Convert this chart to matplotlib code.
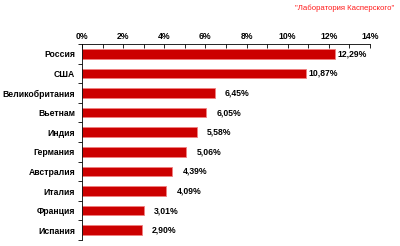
import matplotlib
matplotlib.use("Agg")
import matplotlib.pyplot as plt
from matplotlib import font_manager
from matplotlib.ticker import MultipleLocator, FuncFormatter

countries = ["Россия", "США", "Великобритания", "Вьетнам", "Индия",
             "Германия", "Австралия", "Италия", "Франция", "Испания"]
shares = [12.29, 10.87, 6.45, 6.05, 5.58, 5.06, 4.39, 4.09, 3.01, 2.90]

bold = font_manager.FontProperties(family=["Liberation Sans", "DejaVu Sans"],
                                   weight="bold", size=6.2)
reg = font_manager.FontProperties(family=["Liberation Sans", "DejaVu Sans"], size=5.6)

fig = plt.figure(figsize=(4, 2.46), dpi=100)
ax = fig.add_axes([0.205, 0.024, 0.72, 0.797])

pos = list(range(len(countries)))
ax.barh(pos, shares, height=0.49, color="#cc0000", edgecolor="#f08080", linewidth=0.6)

ax.set_ylim(len(countries) - 0.5, -0.5)
ax.set_xlim(0, 14)

# Labels:
for i, v in enumerate(shares):
    off = 0.15 if v > 10 else 0.5
    ax.text(v + off, i, f"{v:.2f}%".replace(".", ","), va="center", ha="left",
            fontproperties=bold)

# Axes:
ax.xaxis.tick_top()
ax.xaxis.set_major_locator(MultipleLocator(2))
ax.xaxis.set_minor_locator(MultipleLocator(1))
ax.xaxis.set_major_formatter(FuncFormatter(lambda x, p: f"{int(x)}%"))
ax.tick_params(axis="x", which="both", direction="in", length=3, width=0.6, pad=2)
for lab in ax.get_xticklabels():
    lab.set_fontproperties(bold)

ax.set_yticks(pos)
ax.set_yticklabels(countries)
for lab in ax.get_yticklabels():
    lab.set_fontproperties(bold)
ax.set_yticks([p + 0.5 for p in [-1] + pos], minor=True)
ax.tick_params(axis="y", which="major", length=0, pad=5)
ax.tick_params(axis="y", which="minor", direction="out", length=3, width=0.6)

for s in ["right", "bottom"]:
    ax.spines[s].set_visible(False)
for s in ["top", "left"]:
    ax.spines[s].set_linewidth(0.6)

fig.text(0.985, 0.98, "\"Лаборатория Касперского\"", ha="right", va="top",
         fontproperties=reg, color="#ff1a1a")

plt.savefig("out.png", dpi=100)
plt.close()
